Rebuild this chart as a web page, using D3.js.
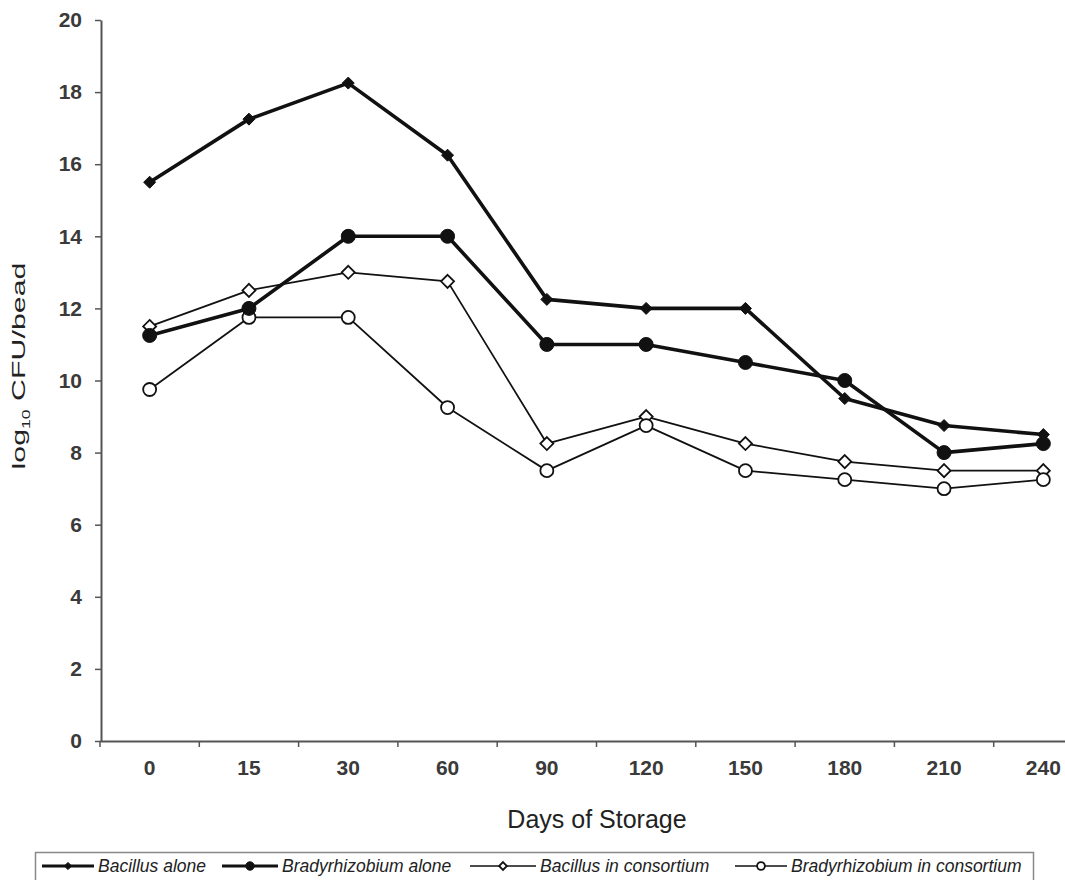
<!DOCTYPE html>
<html>
<head>
<meta charset="utf-8">
<script src="https://cdn.jsdelivr.net/npm/d3@7"></script>
<style>
  body { margin: 0; background: #fff; }
  svg { display: block; font-family: "Liberation Sans", Arial, sans-serif; }
</style>
</head>
<body>
<div id="viz"></div>
<script>
// data
const days = ["0", "15", "30", "60", "90", "120", "150", "180", "210", "240"];
const bacillusAlone = [15.5, 17.25, 18.25, 16.25, 12.25, 12, 12, 9.5, 8.75, 8.5];
const bradyAlone = [11.25, 12, 14, 14, 11, 11, 10.5, 10, 8, 8.25];
const bacillusConsortium = [11.5, 12.5, 13, 12.75, 8.25, 9, 8.25, 7.75, 7.5, 7.5];
const bradyConsortium = [9.75, 11.75, 11.75, 9.25, 7.5, 8.75, 7.5, 7.25, 7, 7.25];
const yTicks = [0, 2, 4, 6, 8, 10, 12, 14, 16, 18, 20];

const series = [
  {name: "Bacillus alone", values: bacillusAlone, marker: "diamond", filled: true, width: 3.6},
  {name: "Bradyrhizobium alone", values: bradyAlone, marker: "circle", filled: true, width: 3.6},
  {name: "Bacillus in consortium", values: bacillusConsortium, marker: "diamond", filled: false, width: 1.8},
  {name: "Bradyrhizobium in consortium", values: bradyConsortium, marker: "circle", filled: false, width: 1.8}
];

const W = 1065, H = 880;
const svg = d3.select("#viz").append("svg")
  .attr("width", W)
  .attr("height", H);

const x = d3.scaleBand()
  .domain(days)
  .range([100, 1093])
  .padding(0);

const y = d3.scaleLinear()
  .domain([0, 20])
  .range([741, 20]);

// y axis
const yAxis = svg.append("g")
  .attr("transform", "translate(101,0)")
  .call(d3.axisLeft(y).tickValues(yTicks).tickSize(6).tickSizeOuter(0).tickPadding(13));
yAxis.select(".domain").attr("stroke", "#555").attr("stroke-width", 2);
yAxis.selectAll(".tick line").attr("stroke", "#555").attr("stroke-width", 1.5);
yAxis.selectAll("text")
  .attr("fill", "#3a3a3a")
  .style("font-size", "21px")
  .style("font-weight", "bold");

// x axis
const xAxis = svg.append("g")
  .attr("transform", "translate(0,741)")
  .call(d3.axisBottom(x).tickSize(0).tickSizeOuter(0).tickPadding(19));
xAxis.select(".domain").attr("stroke", "#555").attr("stroke-width", 2);
xAxis.selectAll("text")
  .attr("fill", "#3a3a3a")
  .style("font-size", "21px")
  .style("font-weight", "bold");
// tick marks sit on the category boundaries
xAxis.selectAll(".bound")
  .data(days)
  .join("line")
  .attr("class", "bound")
  .attr("x1", d => x(d))
  .attr("x2", d => x(d))
  .attr("y1", 0)
  .attr("y2", 6)
  .attr("stroke", "#555")
  .attr("stroke-width", 1.5);

// axis titles
svg.append("text")
  .attr("x", 597)
  .attr("y", 828)
  .attr("text-anchor", "middle")
  .attr("fill", "#222")
  .style("font-size", "25px")
  .text("Days of Storage");

const yTitle = svg.append("text")
  .attr("transform", "translate(25,366) rotate(-90) scale(1.6,1)")
  .attr("text-anchor", "middle")
  .attr("fill", "#222")
  .style("font-size", "19px");
yTitle.append("tspan").text("log");
yTitle.append("tspan").attr("dy", 5).style("font-size", "11px").text("10");
yTitle.append("tspan").attr("dy", -5).text(" CFU/bead");

// markers
function drawMarker(g, s, cx, cy, scale) {
  const k = scale || 1;
  if (s.marker === "diamond") {
    const r = (s.filled ? 6 : 6.5) * k;
    g.append("path")
      .attr("d", `M${cx},${cy - r}L${cx + r},${cy}L${cx},${cy + r}L${cx - r},${cy}Z`)
      .attr("fill", s.filled ? "#111" : "#fff")
      .attr("stroke", "#111")
      .attr("stroke-width", s.filled ? 1 : 1.8);
  } else {
    g.append("circle")
      .attr("cx", cx)
      .attr("cy", cy)
      .attr("r", (s.filled ? 7 : 6.5) * k)
      .attr("fill", s.filled ? "#111" : "#fff")
      .attr("stroke", "#111")
      .attr("stroke-width", s.filled ? 1 : 1.8);
  }
}

const line = d3.line()
  .x((d, i) => x(days[i]) + x.bandwidth() / 2)
  .y(d => y(d));

// draw thin series first, bold on top
[2, 3, 0, 1].forEach(idx => {
  const s = series[idx];
  const g = svg.append("g");
  g.append("path")
    .datum(s.values)
    .attr("fill", "none")
    .attr("stroke", "#111")
    .attr("stroke-width", s.width)
    .attr("stroke-linejoin", "round")
    .attr("d", line);
  s.values.forEach((v, i) => {
    drawMarker(g, s, x(days[i]) + x.bandwidth() / 2, y(v));
  });
});

// legend
const legend = svg.append("g");
legend.append("rect")
  .attr("x", 35.5)
  .attr("y", 852.5)
  .attr("width", 998)
  .attr("height", 40)
  .attr("fill", "#fff")
  .attr("stroke", "#888")
  .attr("stroke-width", 1.5);

const legendPos = [
  {lx: 42, tx: 98},
  {lx: 222, tx: 282},
  {lx: 470, tx: 540},
  {lx: 735, tx: 791}
];
series.forEach((s, i) => {
  const p = legendPos[i];
  const len = p.tx - p.lx - 4;
  legend.append("line")
    .attr("x1", p.lx)
    .attr("x2", p.lx + len)
    .attr("y1", 866)
    .attr("y2", 866)
    .attr("stroke", "#111")
    .attr("stroke-width", s.filled ? 3 : 1.5);
  drawMarker(legend, s, p.lx + len / 2, 866, 0.6);
  legend.append("text")
    .attr("x", p.tx)
    .attr("y", 872)
    .attr("fill", "#222")
    .style("font-size", "17.5px")
    .style("font-style", "italic")
    .text(s.name);
});
</script>
</body>
</html>
